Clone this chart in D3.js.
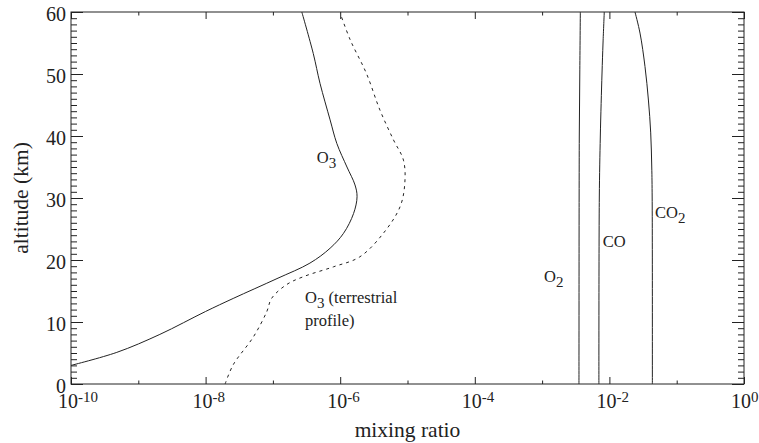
<!DOCTYPE html>
<html>
<head>
<meta charset="utf-8">
<script src="https://cdn.jsdelivr.net/npm/d3@7"></script>
<style>
  html, body { margin: 0; padding: 0; background: #fff; }
  svg { display: block; }
  svg text { font-family: "Liberation Serif", "Times New Roman", Tinos, Times, "DejaVu Serif", "Noto Serif", serif; }
</style>
</head>
<body>
<svg id="chart" width="759" height="443"></svg>
<script>
// ---------------- data ----------------
// O3 (model, solid)
const o3Alt = [3.0, 5.1, 8.0, 11.7, 13.8, 17.0, 19.5, 21.9, 24.3, 27.5, 30.2, 32.1, 35.0, 38.8, 42.6, 48.5, 53.3, 60.0];
const o3Mix = [1.0e-10, 4.79e-10, 2.09e-9, 1.0e-8, 2.57e-8, 1.15e-7, 3.55e-7, 7.08e-7, 1.12e-6, 1.58e-6, 1.78e-6, 1.66e-6, 1.26e-6, 8.91e-7, 7.08e-7, 5.01e-7, 3.98e-7, 2.69e-7];
// O3 terrestrial profile (dashed)
const o3tAlt = [0.0, 3.1, 7.6, 11.7, 13.8, 16.0, 17.3, 18.9, 20.5, 24.3, 28.6, 32.4, 36.1, 39.4, 44.2, 50.1, 55.5, 59.8];
const o3tMix = [1.95e-8, 2.57e-8, 5.13e-8, 8.13e-8, 9.55e-8, 1.58e-7, 2.82e-7, 7.94e-7, 1.95e-6, 4.37e-6, 7.76e-6, 9.12e-6, 8.71e-6, 6.17e-6, 3.89e-6, 2.45e-6, 1.41e-6, 1.0e-6];
// O2
const o2Alt = [0, 30, 40, 50, 60];
const o2Mix = [3.53e-3, 3.55e-3, 3.57e-3, 3.63e-3, 3.70e-3];
// CO
const coAlt = [0, 30, 40, 50, 55, 60];
const coMix = [6.98e-3, 7.08e-3, 7.33e-3, 7.76e-3, 8.04e-3, 8.39e-3];
// CO2
const co2Alt = [0, 30, 35, 40.5, 45.8, 51.2, 56.6, 60];
const co2Mix = [4.35e-2, 4.32e-2, 4.26e-2, 4.11e-2, 3.80e-2, 3.38e-2, 2.85e-2, 2.40e-2];

// axes ticks / labels
const xLabeledTicks = [1e-10, 1e-8, 1e-6, 1e-4, 1e-2, 1];
const xLabelExponents = ["-10", "-8", "-6", "-4", "-2", "0"];
const xUnlabeledTicks = [1e-9, 1e-7, 1e-5, 1e-3, 1e-1];
const yMajorTicks = [0, 10, 20, 30, 40, 50, 60];
const yMinorTicks = d3.range(0, 61, 1).filter(v => v % 10 !== 0);

const xTitle = "mixing ratio";
const yTitle = "altitude (km)";

// ---------------- layout ----------------
const W = 759, H = 443;
const margin = { top: 12, right: 15, bottom: 59, left: 71 };
const x = d3.scaleLog().domain([1e-10, 1]).range([margin.left, W - margin.right]);
const y = d3.scaleLinear().domain([0, 60]).range([H - margin.bottom, margin.top]);

const svg = d3.select("#chart");
const ink = "#222";

// clip
svg.append("clipPath").attr("id", "clip")
  .append("rect")
  .attr("x", x.range()[0]).attr("y", y.range()[1])
  .attr("width", x.range()[1] - x.range()[0])
  .attr("height", y.range()[0] - y.range()[1]);

function axisStyle(g) {
  g.select(".domain").remove();
  g.selectAll(".tick line").attr("stroke", ink).attr("stroke-width", 1);
  g.selectAll(".tick text").remove();
}

// bottom and top x ticks
const x0 = y.range()[0], x1 = y.range()[1];
svg.append("g").attr("transform", `translate(0,${x0})`)
  .call(d3.axisBottom(x).tickValues(xLabeledTicks).tickSize(-7)).call(axisStyle);
svg.append("g").attr("transform", `translate(0,${x0})`)
  .call(d3.axisBottom(x).tickValues(xUnlabeledTicks).tickSize(-3.5)).call(axisStyle);
svg.append("g").attr("transform", `translate(0,${x1})`)
  .call(d3.axisTop(x).tickValues(xLabeledTicks).tickSize(-7)).call(axisStyle);
svg.append("g").attr("transform", `translate(0,${x1})`)
  .call(d3.axisTop(x).tickValues(xUnlabeledTicks).tickSize(-3.5)).call(axisStyle);

// left and right y ticks
const yl = x.range()[0], yr = x.range()[1];
svg.append("g").attr("transform", `translate(${yl},0)`)
  .call(d3.axisLeft(y).tickValues(yMajorTicks).tickSize(-12)).call(axisStyle);
svg.append("g").attr("transform", `translate(${yl},0)`)
  .call(d3.axisLeft(y).tickValues(yMinorTicks).tickSize(-6)).call(axisStyle);
svg.append("g").attr("transform", `translate(${yr},0)`)
  .call(d3.axisRight(y).tickValues(yMajorTicks).tickSize(-12)).call(axisStyle);
svg.append("g").attr("transform", `translate(${yr},0)`)
  .call(d3.axisRight(y).tickValues(yMinorTicks).tickSize(-6)).call(axisStyle);

// frame
svg.append("rect")
  .attr("x", yl).attr("y", x1)
  .attr("width", yr - yl).attr("height", x0 - x1)
  .attr("fill", "none").attr("stroke", ink).attr("stroke-width", 1);

const textG = svg.append("g").attr("fill", ink);

// y tick labels
textG.append("g").selectAll("text").data(yMajorTicks).join("text")
  .attr("x", yl - 5)
  .attr("y", d => y(d) + 8.5)
  .attr("text-anchor", "end")
  .attr("font-size", 20)
  .text(d => d);

// x tick labels (10^n)
const xl = textG.append("g").selectAll("text").data(xLabeledTicks).join("text")
  .attr("x", d => x(d) - 13)
  .attr("y", x0 + 24)
  .attr("text-anchor", "start")
  .attr("font-size", 20);
xl.append("tspan").text("10");
xl.append("tspan").attr("font-size", 15).attr("dy", -6).text((d, i) => xLabelExponents[i]);

// axis titles
textG.append("text")
  .attr("x", (yl + yr) / 2).attr("y", 437)
  .attr("text-anchor", "middle").attr("font-size", 21.5)
  .text(xTitle);
textG.append("text")
  .attr("transform", `translate(28,${(x0 + x1) / 2}) rotate(-90)`)
  .attr("text-anchor", "middle").attr("font-size", 21.5)
  .text(yTitle);

// ---------------- lines ----------------
const line = d3.line()
  .x(d => x(d[1]))
  .y(d => y(d[0]))
  .curve(d3.curveCatmullRom.alpha(0.5));

const plot = svg.append("g").attr("clip-path", "url(#clip)");
function addLine(alts, mixes, dash) {
  plot.append("path")
    .datum(alts.map((a, i) => [a, mixes[i]]))
    .attr("d", line)
    .attr("fill", "none")
    .attr("stroke", ink)
    .attr("stroke-width", 1)
    .attr("stroke-dasharray", dash || null);
}
addLine(o3Alt, o3Mix);
addLine(o3tAlt, o3tMix, "3,4");
addLine(o2Alt, o2Mix);
addLine(coAlt, coMix);
addLine(co2Alt, co2Mix);

// ---------------- labels ----------------
function chemLabel(px, py, base, sub, extra) {
  const t = textG.append("text").attr("x", px).attr("y", py).attr("font-size", 16.5);
  t.append("tspan").text(base);
  if (sub) t.append("tspan").attr("dy", 5).attr("font-size", 15).text(sub);
  if (extra) t.append("tspan").attr("dy", -5).text(extra);
  return t;
}
chemLabel(x(4.5e-7), y(35.6), "O", "3");
chemLabel(x(3.0e-7), y(13.1), "O", "3", " (terrestrial");
textG.append("text").attr("x", x(3.0e-7)).attr("y", y(9.35)).attr("font-size", 16.5).text("profile)");
chemLabel(x(1.07e-3), y(16.5), "O", "2");
chemLabel(x(7.94e-3), y(22.05), "CO");
chemLabel(x(4.76e-2), y(26.7), "CO", "2");
</script>
</body>
</html>
